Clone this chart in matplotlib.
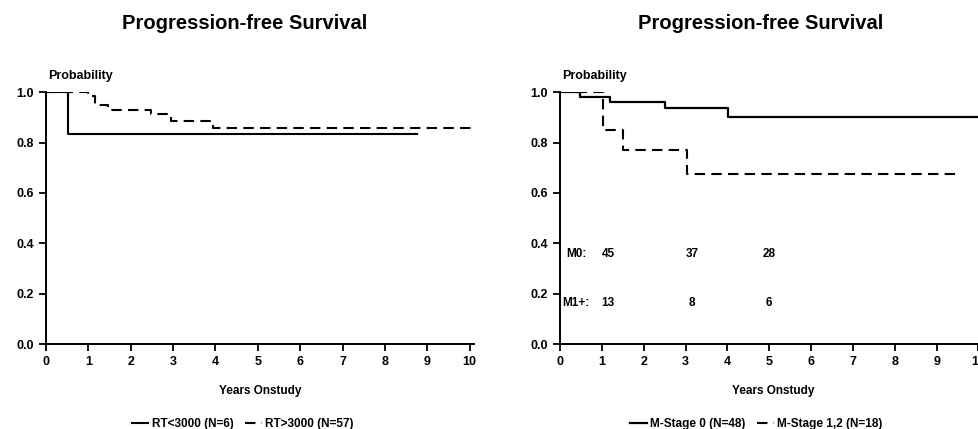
import matplotlib.pyplot as plt

plt.rcParams['font.family'] = ['Liberation Sans', 'DejaVu Sans']
plt.rcParams['font.weight'] = 'bold'

# left panel: RT dose groups
rt_low_t = [0, 0.52, 8.75]
rt_low_s = [1.0, 0.833, 0.833]
rt_high_t = [0, 0.99, 1.16, 1.47, 2.49, 2.96, 3.95, 10.1]
rt_high_s = [1.0, 0.985, 0.95, 0.93, 0.912, 0.885, 0.856, 0.856]

# right panel: M-stage groups
m0_t = [0, 0.49, 1.19, 2.52, 4.02, 10.2]
m0_s = [1.0, 0.98, 0.96, 0.937, 0.90, 0.90]
m1_t = [0, 1.03, 1.5, 3.03, 9.52]
m1_s = [1.0, 0.85, 0.77, 0.675, 0.675]

risk_times = [1.15, 3.15, 5.0]
risk_m0 = ['45', '37', '28']
risk_m1 = ['13', '8', '6']

xticks = list(range(11))
yticks = [0.0, 0.2, 0.4, 0.6, 0.8, 1.0]

fig = plt.figure(figsize=(9.79, 4.29), dpi=100)
ax1 = fig.add_axes([0.047, 0.198, 0.437, 0.587])
ax2 = fig.add_axes([0.572, 0.198, 0.436, 0.587])


def style(ax, xmax):
    ax.set_xlim(0, xmax)
    ax.set_ylim(0, 1.0)
    ax.spines['top'].set_visible(False)
    ax.spines['right'].set_visible(False)
    ax.spines['left'].set_linewidth(1.4)
    ax.spines['bottom'].set_linewidth(1.4)
    ax.set_xticks(xticks)
    ax.set_yticks(yticks)
    ax.set_yticklabels(['%.1f' % v for v in yticks])
    ax.tick_params(direction='out', length=5, width=1.3, labelsize=9)
    for lab in ax.get_xticklabels() + ax.get_yticklabels():
        lab.set_fontweight('bold')
    ax.set_xlabel('Years Onstudy', fontsize=8.5, fontweight='bold', labelpad=12)
    ax.text(0.005, 1.04, 'Probability', transform=ax.transAxes,
            fontsize=9, fontweight='bold', va='bottom')


ax1.step(rt_low_t, rt_low_s, where='post', color='black', lw=1.5,
         label='RT<3000 (N=6)')
ax1.step(rt_high_t, rt_high_s, where='post', color='black', lw=1.5,
         ls=(0, (5, 3)), label='RT>3000 (N=57)')
style(ax1, 10.1)

ax2.step(m0_t, m0_s, where='post', color='black', lw=1.6,
         label='M-Stage 0 (N=48)')
ax2.step(m1_t, m1_s, where='post', color='black', lw=1.5,
         ls=(0, (5, 3)), label='M-Stage 1,2 (N=18)')
style(ax2, 10.2)

fig.text(0.250, 0.945, 'Progression-free Survival', fontsize=14.5,
         fontweight='bold', ha='center', va='center')
fig.text(0.777, 0.945, 'Progression-free Survival', fontsize=14.5,
         fontweight='bold', ha='center', va='center')

ax2.text(0.15, 0.357, 'M0:', fontsize=8.5, fontweight='bold', va='center')
ax2.text(0.05, 0.164, 'M1+:', fontsize=8.5, fontweight='bold', va='center')
for t, a, b in zip(risk_times, risk_m0, risk_m1):
    ax2.text(t, 0.357, a, fontsize=8.5, fontweight='bold', va='center', ha='center')
    ax2.text(t, 0.164, b, fontsize=8.5, fontweight='bold', va='center', ha='center')

for ax in (ax1, ax2):
    leg = ax.legend(loc='upper center', bbox_to_anchor=(0.46, -0.25), ncol=2,
                    frameon=False, fontsize=8.5, handlelength=1.4,
                    handletextpad=0.3, columnspacing=1.0)
    for t in leg.get_texts():
        t.set_fontweight('bold')

fig.savefig('out.png', dpi=100)
